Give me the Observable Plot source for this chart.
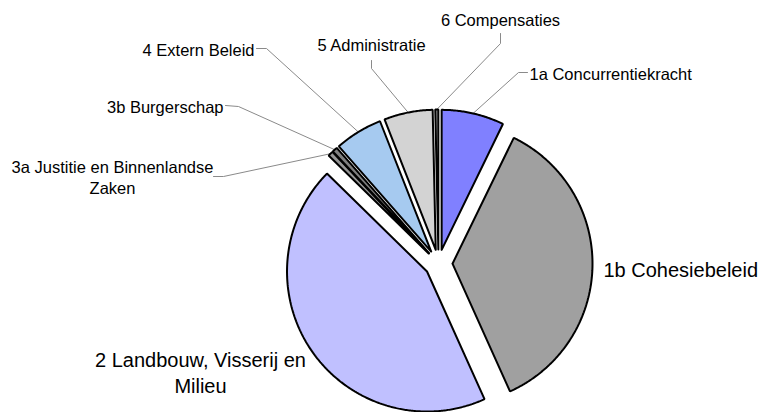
<!DOCTYPE html>
<html><head><meta charset="utf-8">
<script src="https://cdn.jsdelivr.net/npm/d3@7"></script>
<script src="https://cdn.jsdelivr.net/npm/@observablehq/plot@0.6"></script>
<style>html,body{margin:0;padding:0;background:#fff}</style>
</head><body><div id="chart"></div>
<script>
// ---- data ----
const categories = [
  "1a Concurrentiekracht",
  "1b Cohesiebeleid",
  "2 Landbouw, Visserij en Milieu",
  "3a Justitie en Binnenlandse Zaken",
  "3b Burgerschap",
  "4 Extern Beleid",
  "5 Administratie",
  "6 Compensaties"
];
const shares = [7.2, 36.0, 44.0, 0.6, 0.6, 5.5, 5.6, 0.35];

// ---- styles / layout ----
const sliceColors = ["#8080ff", "#a0a0a0", "#c0c0ff", "#969696", "#808080", "#a6caf0", "#d3d3d3", "#909090"];
const W = 760, H = 412, CX = 438, CY = 263, R = 140, EXPLODE = 14;
const SMALL = 16.5, LARGE = 20;
const labelLayout = [
  {cat: 0, text: "1a Concurrentiekracht", x: 529, y: 72, anchor: "start", size: SMALL, elbow: [518, 72], end: [527, 72]},
  {cat: 1, text: "1b Cohesiebeleid", x: 603, y: 268, anchor: "start", size: LARGE},
  {cat: 2, text: "2 Landbouw, Visserij en\nMilieu", x: 200, y: 371, anchor: "middle", size: LARGE},
  {cat: 3, text: "3a Justitie en Binnenlandse\nZaken", x: 112, y: 176, anchor: "middle", size: SMALL, elbow: [223, 176], end: [213, 176]},
  {cat: 4, text: "3b Burgerschap", x: 223, y: 105, anchor: "end", size: SMALL, elbow: [238, 106], end: [225, 105]},
  {cat: 5, text: "4 Extern Beleid", x: 254, y: 48, anchor: "end", size: SMALL, elbow: [266, 48], end: [256, 48]},
  {cat: 6, text: "5 Administratie", x: 371, y: 43, anchor: "middle", size: SMALL, elbow: [371, 68], end: [371, 60]},
  {cat: 7, text: "6 Compensaties", x: 500, y: 18, anchor: "middle", size: SMALL, elbow: [500, 43], end: [500, 33]}
];

// ---- geometry from data ----
const arcs = d3.pie().sort(null).value(d => d.value)(
  categories.map((name, i) => ({name, value: shares[i], color: sliceColors[i]}))
);
const polys = [];
const mids = [];
arcs.forEach(p => {
  const mid = (p.startAngle + p.endAngle) / 2;
  mids.push(mid);
  const ox = CX + EXPLODE * Math.sin(mid), oy = CY - EXPLODE * Math.cos(mid);
  const name = p.data.name, color = p.data.color;
  polys.push({name, color, x: ox, y: oy});
  const n = Math.max(2, Math.ceil((p.endAngle - p.startAngle) / (Math.PI / 360)));
  for (let k = 0; k <= n; k++) {
    const a = p.startAngle + (p.endAngle - p.startAngle) * k / n;
    polys.push({name, color, x: ox + R * Math.sin(a), y: oy - R * Math.cos(a)});
  }
  polys.push({name, color, x: ox, y: oy});
});
const leaders = [];
labelLayout.filter(l => l.elbow).forEach(l => {
  const mid = mids[l.cat];
  const rr = R + EXPLODE;
  leaders.push({name: l.text, x: CX + rr * Math.sin(mid), y: CY - rr * Math.cos(mid)});
  leaders.push({name: l.text, x: l.elbow[0], y: l.elbow[1]});
  leaders.push({name: l.text, x: l.end[0], y: l.end[1]});
});

const chart = Plot.plot({
  width: W, height: H, margin: 0,
  x: {domain: [0, W], range: [0, W], axis: null},
  y: {domain: [0, H], range: [0, H], axis: null},
  color: {type: "identity"},
  style: {fontFamily: "'Liberation Sans', Arial, sans-serif", background: "#fff"},
  marks: [
    Plot.line(leaders, {x: "x", y: "y", z: "name", stroke: "#8a8a8a", strokeWidth: 1, curve: "linear"}),
    Plot.line(polys, {x: "x", y: "y", z: "name", fill: "color", stroke: "#000", strokeWidth: 2, strokeLinejoin: "miter", curve: "linear"}),
    ...labelLayout.map(l => Plot.text([l], {
      x: "x", y: "y", text: "text", textAnchor: l.anchor, lineAnchor: "middle",
      fontSize: l.size, lineHeight: 1.33, fill: "#000"
    }))
  ]
});
document.getElementById("chart").appendChild(chart);
</script>
</body></html>
